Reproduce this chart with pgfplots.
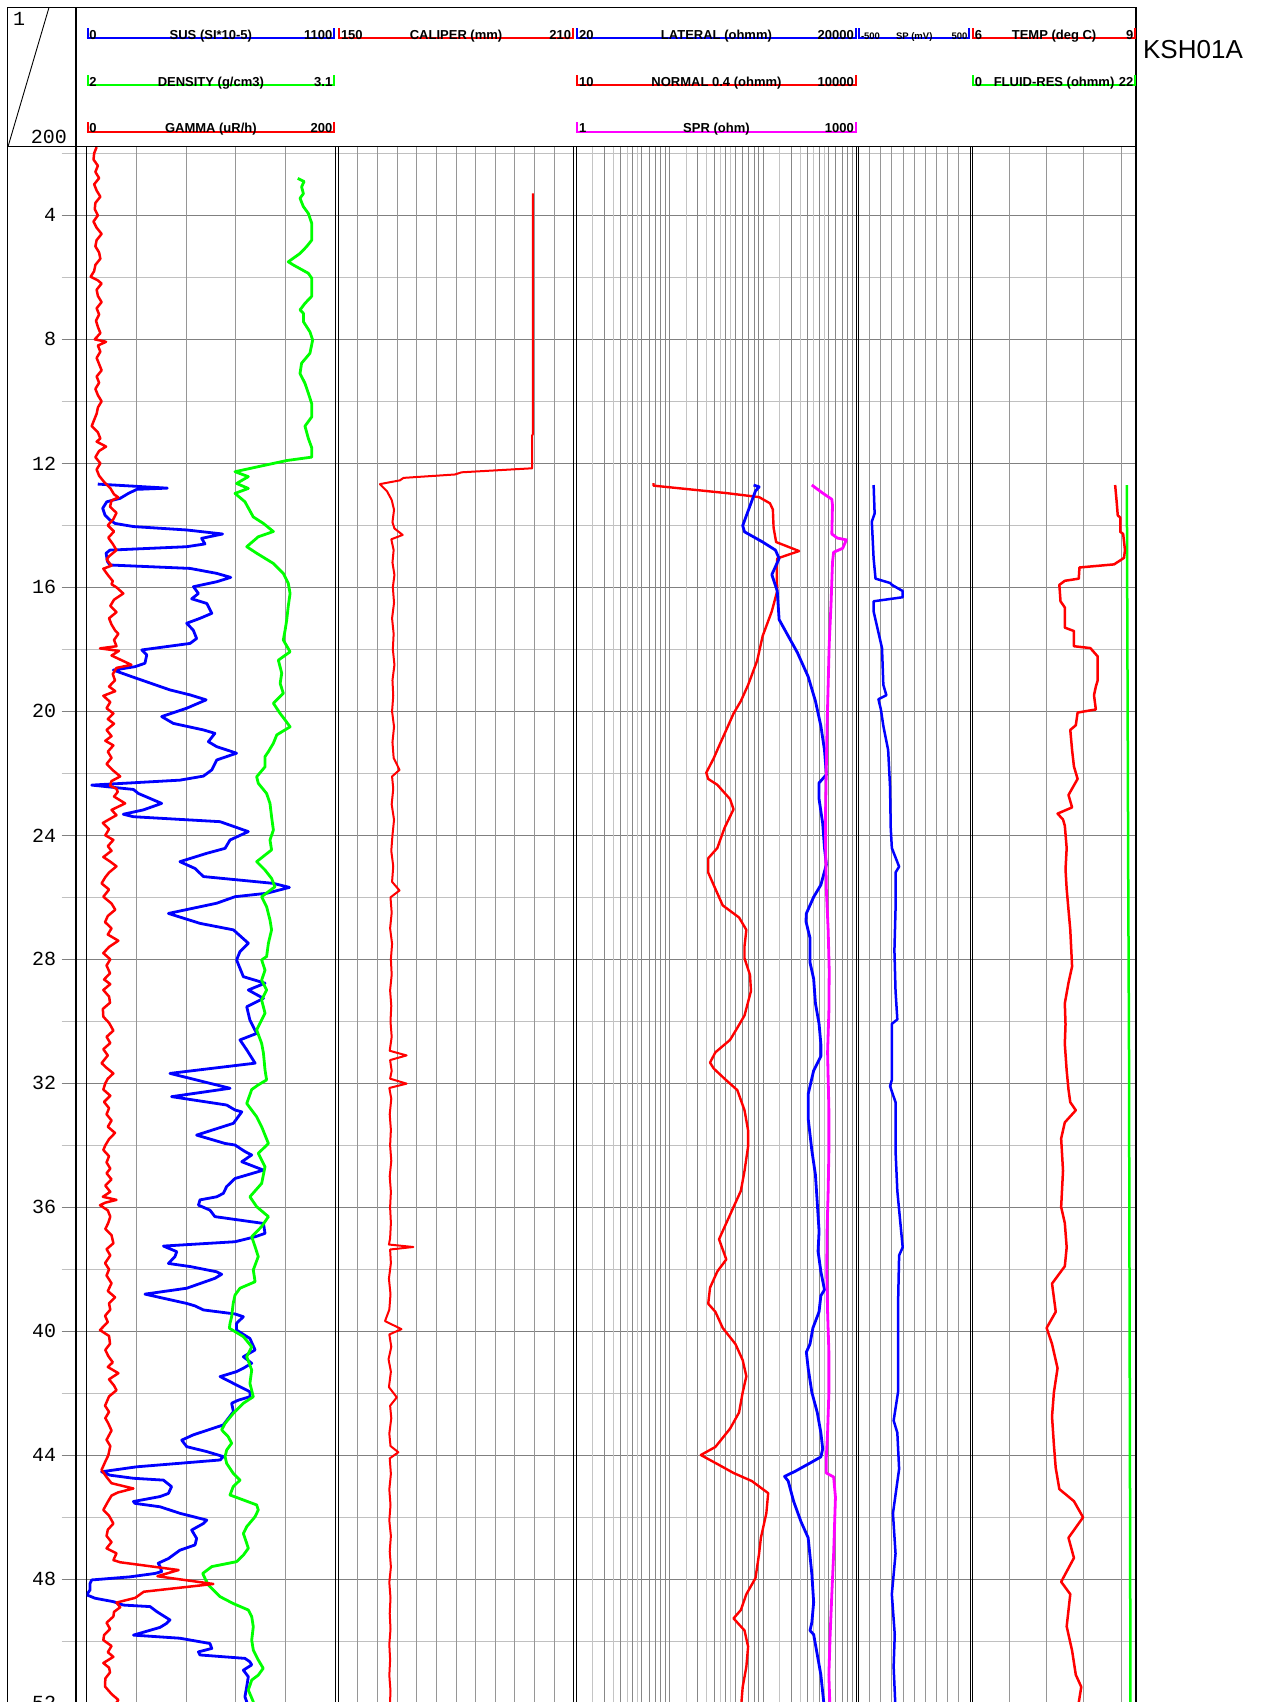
\documentclass[border=0pt]{standalone}
\usepackage{pgfplots}
\pgfplotsset{compat=1.18}
\usepackage{fontspec}
\setmainfont{Liberation Sans}
\newfontfamily\depthfont{Liberation Mono}

\definecolor{gmaj}{RGB}{128,128,128}
\definecolor{gmin}{RGB}{192,192,192}
\definecolor{gvert}{RGB}{150,150,150}
\definecolor{logdark}{RGB}{135,135,135}
\definecolor{loglight}{RGB}{196,196,196}
\definecolor{cblue}{RGB}{0,0,255}
\definecolor{cred}{RGB}{255,0,0}
\definecolor{cgreen}{RGB}{0,255,0}
\definecolor{cmag}{RGB}{255,0,255}

\pgfplotsset{
  base/.style={scale only axis, anchor=north west, height=1587.6pt,
    ymin=1.7871, ymax=53, y dir=reverse},
  track/.style={base, ytick=\empty, xticklabels={},
    major tick length=0pt, minor tick length=0pt,
    xmajorgrids, major grid style={draw=gvert, line width=1pt},
    axis line style={black, line width=1pt}},
  over/.style={base, hide axis},
  curve/.style={no markers, line width=2.8pt, line join=round},
}

% header legend: colour, x1, x2, line y, left value, label, right value, size
\newcommand\leg[8]{%
  \draw[#1, line width=2pt] (#2,#4) -- (#3,#4);
  \draw[#1, line width=2pt] ({#2+1},#4) -- ({#2+1},{#4-10});
  \draw[#1, line width=2pt] ({#3-1},#4) -- ({#3-1},{#4-10});
  \node[anchor=base west, inner sep=0pt, font={\bfseries\fontsize{#8}{#8}\selectfont}] at ({#2+2.5},{#4+0.8}) {#5};
  \node[anchor=base, inner sep=0pt, font={\bfseries\fontsize{#8}{#8}\selectfont}] at ({(#2+#3)/2},{#4+0.8}) {#6};
  \node[anchor=base east, inner sep=0pt, font={\bfseries\fontsize{#8}{#8}\selectfont}] at ({#3-2.5},{#4+0.8}) {#7};
}

\begin{document}
\begin{tikzpicture}
\useasboundingbox (0,0) rectangle (1261pt,-1702pt);
\clip (0,0) rectangle (1261pt,-1702pt);

% depth grid and labels
\begin{axis}[base, at={(61.7pt,-146.7pt)}, width=1074.3pt, xmin=0, xmax=1,
  xtick=\empty, ytick={4,8,...,52}, minor ytick={2,6,...,50},
  ymajorgrids, yminorgrids,
  major grid style={draw=gmaj, line width=1pt},
  minor grid style={draw=gmin, line width=1pt},
  major tick length=0pt, minor tick length=0pt,
  axis line style={draw=none},
  yticklabels={4,8,12,16,20,24,28,32,36,40,44,48,52},
  yticklabel style={font={\depthfont\fontsize{20pt}{20pt}\selectfont}, anchor=east, xshift=-2pt}]
\end{axis}

% track 1: SUS / DENSITY / GAMMA
\begin{axis}[track, at={(86.7pt,-146.7pt)}, width=248.3pt, xmin=0, xmax=1100, xtick={220,440,660,880}]
\addplot[curve, cblue] coordinates {
(49,12.67) (357,12.80) (222,12.84) (185,12.97) (148,13.13) (89,13.24) (71,13.45) (81,13.67) (103,13.83) (126,13.94) (207,14.04) (443,14.15) (602,14.28) (509,14.42) (524,14.60) (443,14.69) (103,14.80) (86,14.90) (92,15.17) (103,15.28) (458,15.39) (576,15.55) (638,15.68) (576,15.82) (473,15.98) (495,16.2) (465,16.37) (532,16.52) (554,16.84) (502,17.0) (443,17.16) (472,17.38) (487,17.65) (458,17.81) (244,18.02) (266,18.18) (258,18.45) (214,18.56) (118,18.67) (199,18.88) (369,19.31) (458,19.47) (529,19.63) (443,19.9) (332,20.17) (384,20.39) (517,20.6) (568,20.71) (539,20.98) (576,21.14) (664,21.35) (576,21.57) (554,21.89) (517,22.09) (413,22.22) (22,22.38) (207,22.52) (229,22.65) (332,22.97) (251,23.18) (162,23.32) (207,23.4) (591,23.56) (716,23.88) (635,24.15) (613,24.42) (532,24.58) (413,24.85) (480,25.07) (517,25.33) (827,25.55) (898,25.68) (797,25.87) (657,25.98) (576,26.19) (362,26.52) (502,26.84) (650,27.05) (716,27.48) (679,27.75) (664,28.02) (694,28.56) (790,28.77) (716,28.99) (783,29.26) (709,29.53) (723,29.96) (753,30.39) (679,30.6) (709,30.92) (746,31.35) (369,31.68) (635,32.16) (376,32.43) (620,32.70) (657,32.86) (687,32.92) (650,33.29) (487,33.67) (613,33.94) (657,33.99) (701,34.2) (731,34.31) (687,34.53) (783,34.8) (657,35.07) (620,35.33) (605,35.55) (576,35.66) (502,35.76) (495,35.93) (546,36.09) (568,36.3) (783,36.52) (790,36.84) (746,36.95) (657,37.11) (340,37.25) (399,37.43) (391,37.59) (362,37.81) (458,37.91) (576,38.08) (598,38.16) (568,38.29) (443,38.61) (258,38.80) (443,39.1) (480,39.18) (517,39.31) (657,39.44) (694,39.53) (664,39.74) (664,39.96) (723,40.23) (746,40.6) (694,40.82) (731,41.03) (694,41.19) (664,41.3) (591,41.46) (650,41.68) (723,41.95) (723,42.11) (672,42.22) (642,42.32) (650,42.59) (605,43.02) (472,43.34) (421,43.51) (443,43.72) (532,43.88) (605,44.04) (591,44.15) (222,44.37) (66,44.53) (103,44.64) (207,44.74) (340,44.8) (376,45.01) (362,45.23) (325,45.33) (207,45.49) (214,45.55) (325,45.66) (413,45.87) (532,46.09) (517,46.2) (465,46.41) (487,46.68) (480,46.89) (413,47.06) (362,47.33) (317,47.48) (325,47.59) (332,47.75) (303,47.81) (192,47.92) (22,48.02) (15,48.13) (15,48.34) (0,48.5) (37,48.61) (118,48.72) (162,48.83) (281,48.88) (310,49.04) (369,49.31) (354,49.42) (325,49.55) (207,49.8) (413,49.9) (546,50.07) (554,50.23) (495,50.34) (502,50.44) (701,50.55) (723,50.66) (731,50.76) (694,50.93) (716,51.14) (709,51.46) (701,51.79) (709,51.95) (700,52.2)
};
\end{axis}
\begin{axis}[over, at={(86.7pt,-146.7pt)}, width=248.3pt, xmin=2, xmax=3.1]
\addplot[curve, cgreen] coordinates {
(2.935,2.81) (2.963,2.91) (2.952,3.08) (2.960,3.3) (2.945,3.45) (2.960,3.72) (2.982,3.94) (2.997,4.26) (2.997,4.8) (2.974,5.01) (2.945,5.23) (2.893,5.5) (2.915,5.6) (2.982,5.87) (2.997,6.03) (2.997,6.61) (2.967,6.84) (2.945,7.05) (2.960,7.16) (2.960,7.43) (2.989,7.76) (3.001,8.02) (2.989,8.45) (2.952,8.77) (2.945,9.1) (2.967,9.42) (2.982,9.74) (2.997,10.08) (2.997,10.5) (2.967,10.8) (2.982,11.2) (2.997,11.5) (2.997,11.8) (2.886,11.91) (2.657,12.27) (2.716,12.43) (2.664,12.65) (2.716,12.81) (2.657,12.97) (2.701,13.24) (2.738,13.73) (2.783,13.94) (2.827,14.2) (2.760,14.37) (2.709,14.69) (2.753,14.9) (2.827,15.23) (2.871,15.55) (2.893,15.87) (2.901,16.2) (2.893,16.6) (2.886,17.06) (2.879,17.38) (2.871,17.7) (2.901,18.08) (2.849,18.35) (2.864,18.77) (2.857,19.1) (2.871,19.42) (2.827,19.74) (2.857,20.07) (2.879,20.28) (2.901,20.5) (2.842,20.76) (2.827,21.03) (2.805,21.3) (2.790,21.46) (2.790,21.79) (2.753,22.11) (2.760,22.32) (2.797,22.65) (2.812,22.97) (2.819,23.4) (2.827,23.83) (2.812,24.15) (2.819,24.47) (2.753,24.85) (2.790,25.12) (2.819,25.39) (2.834,25.66) (2.775,25.98) (2.797,26.3) (2.812,26.73) (2.819,27.05) (2.805,27.48) (2.797,27.91) (2.775,28.02) (2.790,28.35) (2.775,28.67) (2.797,28.99) (2.775,29.31) (2.790,29.74) (2.753,30.28) (2.775,30.71) (2.783,31.03) (2.790,31.57) (2.797,31.89) (2.760,32.05) (2.731,32.2) (2.709,32.65) (2.753,33.08) (2.775,33.4) (2.805,33.94) (2.760,34.26) (2.790,34.69) (2.775,35.23) (2.723,35.66) (2.753,35.98) (2.805,36.3) (2.775,36.62) (2.731,36.95) (2.746,37.27) (2.760,37.59) (2.738,38.02) (2.746,38.4) (2.679,38.61) (2.657,38.83) (2.649,39.1) (2.642,39.53) (2.635,39.74) (2.632,39.9) (2.694,40.17) (2.731,40.5) (2.709,40.82) (2.731,41.25) (2.723,41.68) (2.738,42.11) (2.694,42.32) (2.649,42.65) (2.613,42.97) (2.598,43.18) (2.627,43.4) (2.642,43.61) (2.620,43.83) (2.613,44.04) (2.620,44.26) (2.649,44.58) (2.679,44.8) (2.649,45.01) (2.635,45.28) (2.753,45.6) (2.760,45.76) (2.746,45.98) (2.709,46.3) (2.694,46.52) (2.709,46.84) (2.716,47.0) (2.694,47.22) (2.664,47.43) (2.554,47.59) (2.514,47.81) (2.524,47.97) (2.539,48.18) (2.591,48.56) (2.649,48.78) (2.716,48.99) (2.731,49.2) (2.738,49.53) (2.731,49.96) (2.738,50.28) (2.760,50.6) (2.782,50.87) (2.760,51.09) (2.731,51.25) (2.716,51.57) (2.738,51.95) (2.730,52.2)
};
\end{axis}
\begin{axis}[over, at={(86.7pt,-146.7pt)}, width=248.3pt, xmin=0, xmax=200]
\addplot[curve, cred, line width=2.5pt] coordinates {
(8,1.8) (6,2.0) (5.5,2.2) (9,2.4) (7,2.6) (10,2.8) (6,3.0) (8,3.2) (11,3.4) (7,3.6) (6.5,3.8) (9,4.0) (5.5,4.2) (8,4.4) (12,4.6) (8,4.8) (7,5.0) (10,5.2) (11,5.4) (7,5.6) (6,5.8) (3.2,5.98) (9,6.1) (12,6.2) (8,6.4) (9,6.6) (12,6.8) (8,7.0) (10,7.2) (7.5,7.4) (9,7.6) (11,7.8) (6.5,8.0) (15.6,8.08) (9,8.2) (11,8.4) (8,8.6) (10,8.8) (12,9.0) (8,9.2) (10,9.4) (7,9.6) (9,9.8) (12,10.0) (9,10.2) (8,10.4) (6,10.6) (4,10.8) (9,11.0) (11,11.2) (8,11.3) (15.6,11.46) (10,11.6) (7,11.8) (11,12.0) (8,12.2) (10,12.4) (14,12.6) (19,12.8) (22,13.0) (25.5,13.1) (20,13.2) (18.8,13.4) (24,13.6) (21.5,13.8) (17,14.0) (22,14.2) (17.4,14.4) (21,14.6) (24,14.8) (18,15.0) (16,15.1) (20,15.3) (13.4,15.4) (17,15.6) (21,15.8) (20,15.9) (24,16.0) (29.5,16.2) (22,16.4) (19,16.6) (24,16.8) (18,17.0) (20,17.2) (23,17.4) (25.5,17.5) (22,17.7) (24,17.9) (10.7,17.97) (26,18.05) (20,18.2) (28,18.35) (36,18.5) (24,18.6) (21,18.8) (22.8,19.0) (18,19.2) (23,19.35) (13.4,19.5) (19,19.7) (16,19.9) (21.5,20.07) (17,20.25) (22,20.4) (16,20.6) (20,20.8) (15,20.95) (21.5,21.1) (17,21.3) (20,21.5) (16,21.7) (21,21.9) (27,22.1) (20,22.25) (18.8,22.4) (24,22.5) (25,22.6) (22,22.75) (31,22.97) (20,23.18) (24,23.35) (13,23.6) (18,23.8) (15,24.0) (21.5,24.15) (17,24.35) (20,24.5) (13.4,24.7) (19,24.85) (24,25.0) (18,25.2) (15,25.35) (12,25.55) (18,25.75) (13.4,25.98) (20,26.2) (23,26.4) (17,26.6) (14.8,26.8) (20,27.0) (17,27.2) (25.5,27.4) (18,27.6) (13.4,27.8) (19,28.0) (16,28.2) (18.8,28.45) (14,28.65) (19,28.8) (13.4,28.99) (18,29.2) (18.8,29.4) (13,29.6) (13.4,29.85) (18,30.05) (21.5,30.3) (16,30.5) (19,30.7) (13.4,30.9) (17,31.1) (12,31.35) (16,31.5) (21.5,31.68) (17,31.85) (15,32.0) (13.4,32.2) (19,32.4) (14,32.6) (18,32.8) (16,33.0) (20,33.2) (17,33.4) (22.8,33.6) (18,33.8) (15,34.0) (13.4,34.15) (18,34.35) (16,34.55) (19,34.75) (16,34.9) (20,35.1) (15,35.3) (19,35.5) (13,35.66) (24,35.76) (15,35.85) (10.7,35.93) (17,36.1) (19,36.3) (17.4,36.5) (15,36.7) (20,36.9) (21.5,37.16) (16,37.35) (19,37.55) (14.8,37.8) (18,38.0) (16,38.2) (20,38.45) (17,38.7) (22.8,38.9) (18,39.1) (19,39.3) (14.8,39.5) (17,39.7) (10.7,39.96) (18,40.15) (18.8,40.4) (15,40.6) (17.4,40.8) (21,41.0) (17,41.15) (25.5,41.35) (18,41.55) (22,41.75) (24,41.9) (18,42.1) (14.8,42.4) (18,42.6) (15,42.8) (17.4,42.97) (20,43.2) (16,43.5) (19,43.7) (17.4,44.0) (15,44.2) (12,44.47) (16,44.7) (20,44.9) (37.6,45.07) (25,45.2) (20,45.3) (17,45.5) (13.4,45.76) (18,45.95) (21.5,46.2) (17,46.4) (16,46.6) (20,46.8) (16,47.0) (24,47.16) (21.5,47.38) (27,47.45) (74,47.7) (57,47.9) (102,48.15) (46,48.4) (39,48.6) (24,48.75) (27,48.9) (22,49.05) (21.5,49.2) (16,49.4) (18.8,49.6) (14,49.8) (13.4,49.96) (20,50.15) (17,50.35) (21.5,50.5) (13.4,50.7) (18,50.85) (18.8,51.0) (15,51.2) (14.8,51.46) (20,51.7) (25.5,51.89) (22,52.1)
};
\end{axis}

% track 2: CALIPER
\begin{axis}[track, at={(338.3pt,-146.7pt)}, width=235.5pt, xmin=150, xmax=210, xtick={155,160,...,205}]
\addplot[curve, cred, line width=2pt] coordinates {
(199.6,3.29) (199.6,11.05) (199.4,11.1) (199.4,12.16) (181.4,12.29) (179.7,12.36) (166.6,12.47) (165.7,12.55) (160.6,12.67) (162.4,12.9) (163.6,13.18) (164.2,13.5) (163.8,13.9) (164.3,14.1) (166.4,14.31) (163.5,14.45) (164.1,14.8) (163.8,15.2) (164.3,15.6) (163.9,16.0) (164.2,16.5) (163.7,17.0) (164.1,17.5) (163.9,18.0) (164.3,18.5) (163.8,19.0) (164.0,19.5) (163.7,20.0) (164.2,20.5) (163.8,21.0) (164.1,21.5) (165.6,21.89) (163.7,22.1) (164.0,22.5) (163.6,23.0) (164.2,23.5) (163.8,24.0) (163.5,24.5) (164.0,25.0) (163.7,25.5) (165.6,25.78) (163.3,26.0) (163.6,26.5) (163.2,27.0) (163.7,27.5) (163.4,28.0) (163.6,28.5) (163.2,29.0) (163.5,29.5) (163.3,30.0) (163.6,30.5) (163.1,30.95) (167.4,31.1) (163.2,31.25) (163.6,31.6) (163.2,31.85) (167.4,32.01) (163.0,32.15) (163.5,32.5) (163.1,33.0) (163.4,33.5) (163.2,34.0) (163.5,34.5) (163.1,35.0) (163.4,35.5) (163.2,36.0) (163.4,36.5) (163.2,37.0) (162.9,37.2) (169.1,37.28) (163.2,37.36) (163.4,37.8) (162.9,38.3) (163.3,38.8) (163.0,39.3) (161.9,39.67) (166.1,39.93) (163.0,40.1) (163.5,40.5) (162.8,40.9) (163.4,41.3) (162.9,41.8) (164.9,42.13) (163.2,42.4) (163.5,42.8) (163.0,43.3) (163.3,43.7) (165.3,43.9) (163.1,44.1) (163.4,44.6) (163.0,45.1) (163.3,45.6) (163.0,46.1) (163.4,46.6) (163.1,47.1) (163.4,47.6) (163.0,48.1) (163.3,48.6) (163.1,49.1) (163.3,49.6) (163.0,50.1) (163.2,50.6) (163.0,51.1) (163.3,51.6) (163.1,52.2)
};
\end{axis}

% track 3: resistivity (log grid)
\begin{axis}[base, at={(576.4pt,-146.7pt)}, width=280.1pt, xmode=log, xmin=10, xmax=10000,
  xtick={15,25,35,45,150,250,350,450,1500,2500,3500,4500}, xticklabels={}, ytick=\empty,
  xmajorgrids, major grid style={draw=loglight, line width=1pt},
  major tick length=0pt, axis line style={draw=none}]
\end{axis}
\begin{axis}[track, at={(576.4pt,-146.7pt)}, width=280.1pt, xmode=log, xmin=10, xmax=10000,
  xtick={100,1000},
  minor xtick={20,30,40,50,60,70,80,90,200,300,400,500,600,700,800,900,2000,3000,4000,5000,6000,7000,8000,9000},
  xminorgrids, minor grid style={draw=logdark, line width=1pt},
  major grid style={draw=logdark, line width=1pt}]
\addplot[curve, cred, line width=2.4pt] coordinates {
(67,12.64) (67,12.72) (404,12.96) (905,13.09) (1183,13.29) (1271,13.49) (1294,14.08) (1378,14.54) (2425,14.83) (1415,15.07) (1400,15.6) (1415,16.12) (1236,16.78) (988,17.57) (864,18.36) (690,19.15) (577,19.67) (482,20.07) (403,20.6) (337,21.12) (295,21.52) (246,21.98) (258,22.18) (323,22.37) (442,22.83) (482,23.16) (386,23.76) (323,24.41) (258,24.74) (258,25.2) (295,25.6) (369,26.26) (552,26.65) (661,27.05) (632,27.57) (632,27.97) (723,28.5) (741,29.02) (632,29.81) (529,30.21) (442,30.6) (308,31.0) (270,31.33) (295,31.52) (386,31.85) (529,32.22) (632,32.87) (690,33.52) (690,34.04) (632,34.82) (577,35.47) (482,35.99) (403,36.51) (337,37.03) (403,37.68) (323,38.07) (270,38.59) (258,39.11) (308,39.37) (369,39.89) (505,40.41) (604,40.93) (661,41.45) (604,41.97) (552,42.62) (442,43.14) (308,43.73) (215,43.99) (337,44.31) (482,44.57) (757,44.83) (1132,45.22) (1082,45.87) (946,46.66) (905,47.17) (828,47.96) (661,48.48) (577,48.99) (482,49.26) (632,49.65) (690,50.17) (661,50.82) (604,51.47) (577,52.2)
};
\end{axis}
\begin{axis}[over, at={(576.4pt,-146.7pt)}, width=280.1pt, xmode=log, xmin=20, xmax=20000]
\addplot[curve, cblue] coordinates {
(1582,12.70) (1812,12.76) (1656,12.89) (1208,14.01) (1264,14.21) (1981,14.54) (2710,14.8) (2966,15.07) (2478,15.59) (2832,16.12) (2966,17.04) (3710,17.57) (4643,18.1) (6069,18.88) (7262,19.67) (8301,20.47) (9080,21.25) (9510,22.04) (7943,22.31) (7943,22.83) (8690,23.62) (9080,24.41) (9510,24.94) (8301,25.6) (6950,25.99) (5808,26.52) (5750,26.78) (6350,27.31) (6350,28.1) (6950,28.63) (7262,29.42) (7943,30.08) (8301,30.73) (8301,31.13) (6950,31.59) (6069,32.35) (6069,33.13) (6650,34.17) (7262,34.95) (7600,35.86) (7943,36.77) (7750,37.42) (8301,38.07) (9080,38.66) (8301,38.85) (7943,39.37) (6825,39.89) (6350,40.41) (5808,40.67) (6069,41.19) (6650,41.97) (7600,42.62) (8301,43.27) (8690,43.79) (8301,44.05) (6350,44.25) (4436,44.51) (3390,44.68) (3710,44.83) (4237,45.48) (5070,46.13) (6069,46.66) (6650,47.83) (6950,48.74) (6650,49.39) (6350,49.65) (6950,49.78) (7600,50.43) (8301,51.08) (9080,52.2)
};
\end{axis}
\begin{axis}[over, at={(576.4pt,-146.7pt)}, width=280.1pt, xmode=log, xmin=1, xmax=1000]
\addplot[curve, cmag] coordinates {
(332,12.70) (434,12.96) (544,13.16) (553,13.35) (544,14.28) (622,14.41) (778,14.47) (711,14.74) (568,14.87) (553,15.2) (534,16.51) (510,17.83) (497,19.15) (484,20.47) (475,21.78) (467,23.1) (467,24.41) (475,25.73) (497,27.05) (510,28.36) (506,29.68) (490,31.0) (506,32.87) (506,34.17) (497,35.47) (484,36.77) (480,38.07) (490,39.37) (506,40.67) (506,41.97) (490,43.27) (475,44.05) (475,44.57) (569,44.7) (595,45.35) (569,47.17) (544,48.48) (522,49.78) (506,51.08) (520,52.2)
};
\end{axis}

% track 4: SP
\begin{axis}[track, at={(858.3pt,-146.7pt)}, width=111.8pt, xmin=-500, xmax=500, xtick={-400,-300,...,400}]
\addplot[curve, cblue, line width=2.5pt] coordinates {
(-363,12.70) (-354,13.62) (-379,13.88) (-363,15.07) (-346,15.72) (-216,15.86) (-200,15.92) (-103,16.12) (-103,16.32) (-363,16.45) (-363,16.78) (-330,17.3) (-288,17.96) (-276,19.15) (-249,19.48) (-320,19.61) (-298,19.94) (-276,20.47) (-233,21.25) (-216,22.44) (-210,23.76) (-200,24.41) (-135,25.01) (-167,25.2) (-167,26.39) (-177,27.71) (-167,29.02) (-151,29.94) (-200,30.08) (-200,31.0) (-200,31.89) (-216,32.09) (-167,32.61) (-167,34.17) (-151,35.47) (-103,37.29) (-135,37.55) (-145,39.24) (-145,40.67) (-145,41.97) (-184,42.88) (-151,43.27) (-135,44.44) (-190,45.87) (-167,47.17) (-200,48.48) (-174,49.78) (-184,50.82) (-167,52.2)
};
\end{axis}

% track 5: TEMP / FLUID-RES
\begin{axis}[track, at={(972.1pt,-146.7pt)}, width=163.9pt, xmin=0, xmax=22, xtick={5,10,15,20}]
\addplot[curve, cgreen, line width=2.5pt] coordinates {
(20.77,12.70) (20.95,25) (21.06,31.0) (21.26,52.2)
};
\end{axis}
\begin{axis}[over, at={(972.1pt,-146.7pt)}, width=163.9pt, xmin=6, xmax=9]
\addplot[curve, cred, line width=2.5pt] coordinates {
(8.618,12.70) (8.645,13.22) (8.666,13.68) (8.712,13.75) (8.712,14.21) (8.765,14.28) (8.798,14.8) (8.780,15.05) (8.712,15.13) (8.598,15.26) (7.965,15.36) (7.952,15.72) (7.697,15.79) (7.597,15.92) (7.618,16.45) (7.697,16.65) (7.697,17.3) (7.864,17.41) (7.864,17.9) (8.164,17.96) (8.299,18.23) (8.299,19.0) (8.265,19.2) (8.231,19.48) (8.265,19.94) (7.931,20.04) (7.898,20.45) (7.797,20.6) (7.830,21.25) (7.864,21.78) (7.931,22.18) (7.764,22.7) (7.830,23.1) (7.564,23.3) (7.664,23.49) (7.697,23.69) (7.731,24.41) (7.710,25.1) (7.731,25.73) (7.764,26.4) (7.797,27.05) (7.830,28.23) (7.764,28.76) (7.697,29.42) (7.710,30.1) (7.697,30.73) (7.731,31.59) (7.764,32.2) (7.797,32.61) (7.898,32.87) (7.697,33.26) (7.630,33.78) (7.664,34.82) (7.630,35.99) (7.697,36.51) (7.731,37.29) (7.697,37.9) (7.463,38.46) (7.531,39.37) (7.364,39.89) (7.463,40.41) (7.564,41.19) (7.497,41.97) (7.463,42.75) (7.497,43.66) (7.530,44.4) (7.597,45.09) (7.864,45.48) (8.031,46.0) (7.764,46.66) (7.864,47.31) (7.630,48.08) (7.797,48.48) (7.731,49.52) (7.830,50.3) (7.898,51.08) (7.998,51.47) (7.931,52.2)
};
\end{axis}

% header and frame
\begin{scope}[x=1pt, y=-1pt]
\fill[white] (8,8) rectangle (1135,146);
\draw[line width=1.2pt] (7.5,7.5) -- (1136,7.5) -- (1136,1760);
\draw[line width=1.2pt] (7.5,7.5) -- (7.5,1760);
\draw[line width=1.2pt] (7.5,146.7) -- (1136,146.7);
\draw[line width=1.2pt] (76,7.5) -- (76,1760);
\draw[line width=0.9pt] (49,7.5) -- (8,146.7);
\node[anchor=base west, inner sep=0pt, font={\depthfont\fontsize{20pt}{20pt}\selectfont}] at (13,26) {1};
\node[anchor=base east, inner sep=0pt, font={\depthfont\fontsize{20pt}{20pt}\selectfont}] at (67,143) {200};

\leg{cblue}{86.7}{335}{38.5}{0}{SUS (SI*10-5)}{1100}{13pt}
\leg{cred}{338.3}{573.8}{38.5}{150}{CALIPER (mm)}{210}{13pt}
\leg{cblue}{576.4}{856.5}{38.5}{20}{LATERAL (ohmm)}{20000}{13pt}
\leg{cblue}{858.3}{970.1}{38.5}{-500}{SP (mV)}{500}{9.5pt}
\leg{cred}{972.1}{1136}{38.5}{6}{TEMP (deg C)}{9}{13pt}

\leg{cgreen}{86.7}{335}{85.2}{2}{DENSITY (g/cm3)}{3.1}{13pt}
\leg{cred}{576.4}{856.5}{85.2}{10}{NORMAL 0.4 (ohmm)}{10000}{13pt}
\leg{cgreen}{972.1}{1136}{85.2}{0}{FLUID-RES (ohmm)}{22}{13pt}

\leg{cred}{86.7}{335}{131.8}{0}{GAMMA (uR/h)}{200}{13pt}
\leg{cmag}{576.4}{856.5}{131.8}{1}{SPR (ohm)}{1000}{13pt}

\node[anchor=center, inner sep=0pt, font={\fontsize{26pt}{26pt}\selectfont}] at (1193,50) {KSH01A};
\end{scope}
\end{tikzpicture}
\end{document}
